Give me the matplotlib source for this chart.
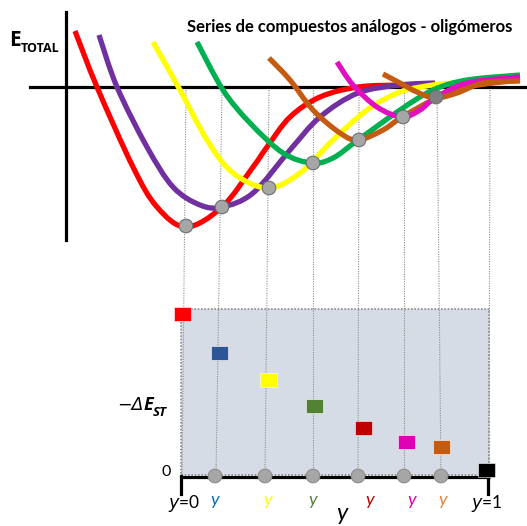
import numpy as np
import matplotlib
matplotlib.use("Agg")
import matplotlib.pyplot as plt
from matplotlib.path import Path
from matplotlib.patches import PathPatch, Rectangle, Circle

plt.rcParams['font.family'] = ['Lato', 'DejaVu Sans']
plt.rcParams['mathtext.fontset'] = 'dejavusans'

W, H = 527, 526

# Potential energy curves (pixel space, y down)
curve_colors = ['#FF0000', '#7030A0', '#FFFF00', '#00B050', '#C55A11', '#E010C0', '#C55A11']
curve_red = [(75, 31), (97, 87), (133, 167), (157, 207), (186, 227), (222, 207), (253, 167),
             (267, 147), (290, 117), (320, 97), (358, 87), (400, 85), (430, 84)]
curve_purple = [(99, 35), (117, 87), (147, 147), (173, 187), (200, 205), (222, 207), (253, 193),
                (290, 150), (320, 117), (358, 93), (400, 85), (435, 83)]
curve_yellow = [(153, 42), (180, 90), (207, 140), (233, 173), (268, 188), (300, 173),
                (333, 140), (367, 110), (400, 92), (433, 85), (455, 83)]
curve_green = [(197, 42), (223, 90), (250, 123), (283, 153), (312, 163), (333, 158),
               (358, 140), (400, 110), (433, 90), (467, 80), (520, 75)]
curve_brown = [(269, 58), (290, 80), (313, 110), (340, 133), (358, 140), (383, 130),
               (402, 117), (433, 100), (467, 87), (520, 80)]
curve_magenta = [(337, 62), (353, 85), (377, 107), (402, 117), (420, 110), (435, 98),
                 (467, 83), (520, 77)]
curve_orange = [(383, 74), (400, 83), (417, 92), (435, 98), (457, 93), (483, 83), (520, 81)]
curves = [curve_red, curve_purple, curve_yellow, curve_green, curve_brown, curve_magenta, curve_orange]

# minima of each well (gray dots)
min_x = [186, 222, 269, 313, 359, 403, 436]
min_y = [226, 207, 188, 163, 140, 117, 97]
min_fill = ['#A6A6A6'] * 6 + ['#7F7F7F']

# lower panel: -dE_ST for each compound
sq_x = [182, 219, 268, 314, 363, 406, 441, 486]
sq_y = [314, 353, 380, 406, 428, 442, 447, 470]
sq_colors = ['#FF0000', '#2F5597', '#FFFF00', '#548235', '#C00000', '#E000B4', '#C55A11', '#000000']
dot_x = [215, 265, 313, 358, 404, 441]
guide_top = [186, 222, 269, 313, 359, 404, 437, 490]
guide_bot = [182, 216, 265, 313, 358, 404, 441, 489]

lab_x = [215, 268, 313, 370, 412, 443]
lab_colors = ['#0070C0', '#FFFF00', '#548235', '#C00000', '#E000B4', '#ED7D31']


def smooth_path(pts):
    p = np.array(pts, dtype=float)
    ext = np.vstack([p[0], p, p[-1]])
    verts = [tuple(p[0])]
    codes = [Path.MOVETO]
    for i in range(1, len(ext) - 2):
        c1 = ext[i] + (ext[i + 1] - ext[i - 1]) / 6.0
        c2 = ext[i + 1] - (ext[i + 2] - ext[i]) / 6.0
        verts += [tuple(c1), tuple(c2), tuple(ext[i + 1])]
        codes += [Path.CURVE4] * 3
    return Path(verts, codes)


fig = plt.figure(figsize=(W / 100, H / 100), dpi=100)
ax = fig.add_axes([0, 0, 1, 1])
ax.set_xlim(0, W)
ax.set_ylim(H, 0)
ax.axis('off')
renderer = fig.canvas.get_renderer()


def text_run(x, pieces):
    # place text pieces one after another, left to right
    for s, y, kw in pieces:
        t = ax.text(x, y, s, ha='left', va='center', **kw)
        x += t.get_window_extent(renderer).width


# bottom panel background
ax.add_patch(Rectangle((181, 309), 308, 166, facecolor='#D6DCE5', edgecolor='#8C8C8C',
                       linestyle=(0, (1, 1)), linewidth=1.2, zorder=1))

# dotted guide lines
for xt, xb in zip(guide_top, guide_bot):
    ax.plot([xt, xb], [90, 476], color='#8C8C8C', linestyle=(0, (1, 1.2)), linewidth=0.8, zorder=2)

# top axes
ax.plot([66, 66], [12, 240], color='black', linewidth=2.3, zorder=3)
ax.plot([30, 525], [87, 87], color='black', linewidth=2.3, zorder=3)

for pts, c in zip(curves, curve_colors):
    ax.add_patch(PathPatch(smooth_path(pts), facecolor='none', edgecolor=c,
                           linewidth=3.8, capstyle='butt', zorder=4))

for x, y, f in zip(min_x, min_y, min_fill):
    ax.add_patch(Circle((x, y), 6.8, facecolor=f, edgecolor='#6E6E6E', linewidth=0.8, zorder=6))

# squares
for x, y, c in zip(sq_x, sq_y, sq_colors):
    ax.add_patch(Rectangle((x - 8.5, y - 7), 17, 14, facecolor=c, edgecolor='white',
                           linewidth=0.4, zorder=6))

# bottom axis
ax.plot([181, 490], [477, 477], color='black', linewidth=2.3, zorder=5, solid_capstyle='butt')
ax.plot([181, 181], [476, 494], color='black', linewidth=2.3, zorder=5)
ax.plot([488, 488], [476, 494], color='black', linewidth=2.3, zorder=5)

for x in dot_x:
    ax.add_patch(Circle((x, 476), 6.8, facecolor='#A6A6A6', edgecolor='#8C8C8C', linewidth=0.8, zorder=6))

# texts
ax.text(350, 27, 'Series de compuestos análogos - oligómeros', fontsize=12, fontweight='bold',
        ha='center', va='center')
bold = dict(family=['Open Sans', 'DejaVu Sans'], fontweight='bold')
text_run(9, [('E', 40, dict(fontsize=15, **bold)),
             ('TOTAL', 48, dict(fontsize=9, **bold))])

ital = dict(family=['Open Sans', 'DejaVu Sans'], style='italic')
text_run(117, [('\u2212\u0394', 405, dict(fontsize=12.5, family='DejaVu Sans', style='italic')),
               ('E', 405, dict(fontsize=13, fontweight='bold', **ital)),
               ('ST', 412, dict(fontsize=9.5, fontweight='bold', **ital))])
ax.text(166, 472, '0', fontsize=11.5, ha='center', va='center')

ax.text(184, 503, r'$\mathit{y}$=0', fontsize=12.5, ha='center', va='center')
ax.text(487, 503, r'$\mathit{y}$=1', fontsize=12.5, ha='center', va='center')
for x, c in zip(lab_x, lab_colors):
    ax.text(x, 500, 'y', fontsize=13, style='italic', color=c, ha='center', va='center')
ax.text(342, 514, 'y', fontsize=17, style='italic', ha='center', va='center')

fig.savefig('out.png', dpi=100)
